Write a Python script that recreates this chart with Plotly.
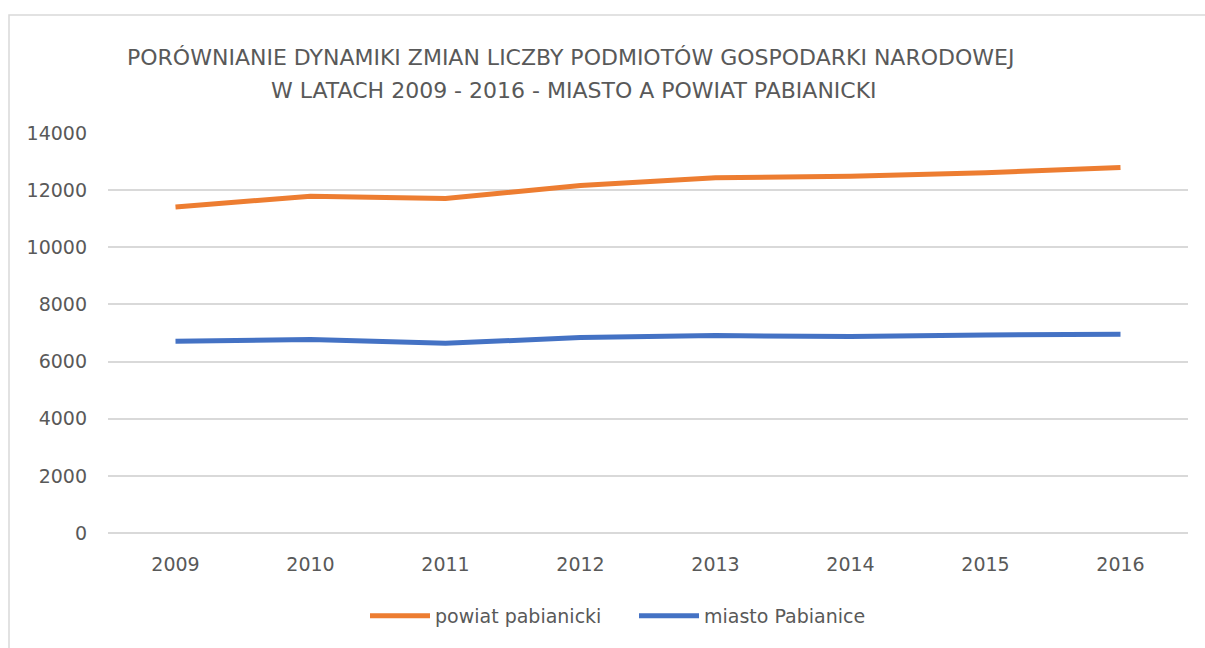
import plotly.graph_objects as go

# Years on the category axis
years = ["2009", "2010", "2011", "2012", "2013", "2014", "2015", "2016"]

# Number of registered business entities
powiat_pabianicki = [11410, 11790, 11710, 12165, 12430, 12490, 12610, 12795]
miasto_pabianice = [6710, 6770, 6640, 6840, 6910, 6875, 6930, 6955]

y_ticks = [0, 2000, 4000, 6000, 8000, 10000, 12000, 14000]

title_lines = [
    "PORÓWNIANIE DYNAMIKI ZMIAN LICZBY PODMIOTÓW GOSPODARKI NARODOWEJ",
    "W LATACH 2009 - 2016 - MIASTO A POWIAT PABIANICKI",
]

FONT = "DejaVu Sans"
GRAY = "#595959"

# plot-area geometry in pixels, used to place text in paper coordinates
L, R, T, B = 108, 1188, 133, 533
W, H = R - L, B - T


def px_x(x):
    return (x - L) / W


def px_y(y):
    return (B - y) / H


fig = go.Figure()
fig.add_trace(go.Scatter(
    x=years, y=powiat_pabianicki, name="powiat pabianicki", mode="lines",
    line=dict(color="#ED7D31", width=5),
))
fig.add_trace(go.Scatter(
    x=years, y=miasto_pabianice, name="miasto Pabianice", mode="lines",
    line=dict(color="#4472C4", width=5),
))

annotations = []
for text, cx, cy in zip(title_lines, [570, 574], [57, 90]):
    annotations.append(dict(
        text=text, xref="paper", yref="paper", x=px_x(cx), y=px_y(cy),
        xanchor="center", yanchor="middle", showarrow=False,
        font=dict(family=FONT, size=22, color=GRAY),
    ))

fig.update_layout(
    width=1205, height=648,
    margin=dict(l=L, r=1205 - R, t=T, b=648 - B),
    paper_bgcolor="white", plot_bgcolor="white",
    font=dict(family=FONT, color=GRAY, size=19),
    annotations=annotations,
    xaxis=dict(
        type="category", range=[-0.5, 7.5], showgrid=False,
        showline=False, zeroline=False, ticks="",
        tickfont=dict(size=19, color=GRAY), ticklabelstandoff=18,
    ),
    yaxis=dict(
        range=[0, 14000], tickvals=y_ticks, ticktext=[str(v) for v in y_ticks],
        showgrid=True, gridcolor="#d9d9d9", gridwidth=1.5,
        zeroline=True, zerolinecolor="#d9d9d9", zerolinewidth=1.5,
        showline=False, ticks="", tickfont=dict(size=19, color=GRAY),
        ticklabelstandoff=20,
    ),
    showlegend=True,
    legend=dict(
        orientation="h", x=px_x(365), xanchor="left",
        y=px_y(616), yanchor="middle",
        font=dict(size=19, color=GRAY), itemwidth=60,
        entrywidth=194, entrywidthmode="pixels",
        bgcolor="rgba(0,0,0,0)",
    ),
    shapes=[dict(
        type="rect", xref="paper", yref="paper",
        x0=px_x(9), x1=px_x(1215),
        y0=px_y(660), y1=px_y(15),
        line=dict(color="#d9d9d9", width=1.5), layer="below",
    )],
)

fig.write_html("out.html")
